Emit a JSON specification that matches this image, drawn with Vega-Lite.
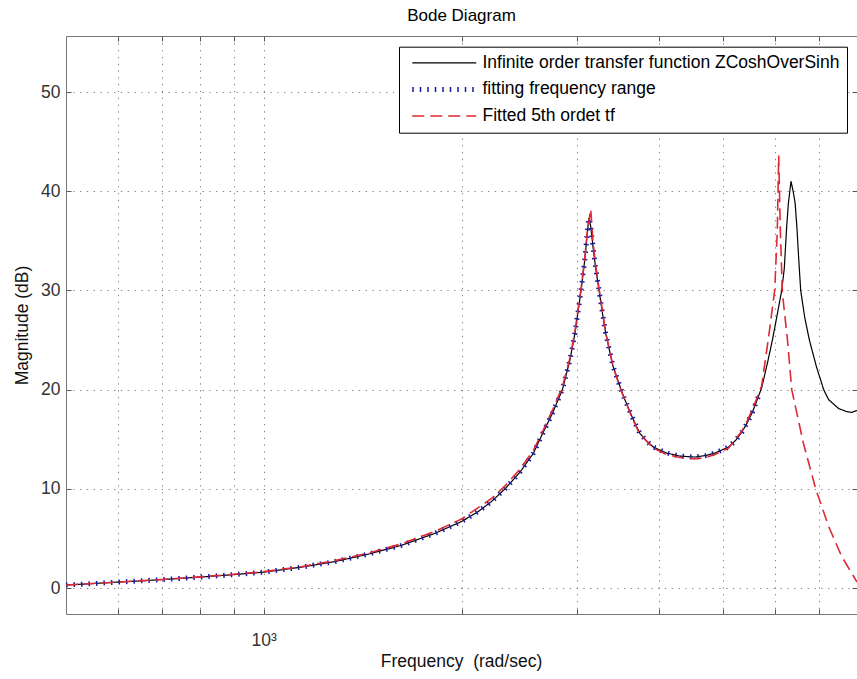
{
  "$schema": "https://vega.github.io/schema/vega-lite/v6.json",
  "width": 791,
  "height": 578,
  "autosize": {"type": "none"},
  "padding": {"left": 66, "top": 36, "right": 0, "bottom": 65},
  "background": "white",
  "title": {"text": "Bode Diagram", "fontSize": 17, "font": "Liberation Sans", "fontWeight": "normal", "color": "#000000", "baseline": "alphabetic", "offset": -2, "frame": "group", "anchor": "middle"},
  "config": {
    "view": {"stroke": null},
    "font": "Liberation Sans",
    "axis": {"domainColor": "#777777", "domainWidth": 1, "tickColor": "#555555", "tickWidth": 1, "labelFont": "Liberation Sans", "labelFontSize": 17.5, "labelColor": "#333333", "titleFont": "Liberation Sans", "titleFontSize": 17.5, "titleFontWeight": "normal", "titleColor": "#111111", "gridColor": "#808080", "gridDash": [1.3, 5.5], "gridOpacity": 1, "gridWidth": 1}
  },
  "datasets": {
    "black": [
      {"f": 500, "db": 0.3}, {"f": 550, "db": 0.45}, {"f": 600, "db": 0.6}, {"f": 650, "db": 0.72}, {"f": 700, "db": 0.85},
      {"f": 800, "db": 1.1}, {"f": 900, "db": 1.35}, {"f": 1000, "db": 1.6}, {"f": 1140, "db": 2.1}, {"f": 1280, "db": 2.65},
      {"f": 1440, "db": 3.4}, {"f": 1620, "db": 4.3}, {"f": 1820, "db": 5.5}, {"f": 2000, "db": 6.7}, {"f": 2120, "db": 7.7},
      {"f": 2220, "db": 8.7}, {"f": 2330, "db": 10.0}, {"f": 2450, "db": 11.6}, {"f": 2574, "db": 13.6}, {"f": 2650, "db": 15.4},
      {"f": 2750, "db": 17.6}, {"f": 2849, "db": 20.0}, {"f": 2925, "db": 23.0}, {"f": 2977, "db": 25.7}, {"f": 3041, "db": 30.0},
      {"f": 3080, "db": 33.0}, {"f": 3105, "db": 35.5}, {"f": 3125, "db": 37.3}, {"f": 3145, "db": 36.5}, {"f": 3170, "db": 34.5},
      {"f": 3200, "db": 32.3}, {"f": 3239, "db": 30.0}, {"f": 3280, "db": 27.6}, {"f": 3315, "db": 25.7}, {"f": 3400, "db": 22.4},
      {"f": 3499, "db": 20.0}, {"f": 3545, "db": 19.0}, {"f": 3640, "db": 17.2}, {"f": 3736, "db": 15.6}, {"f": 3830, "db": 14.8},
      {"f": 3920, "db": 14.2}, {"f": 4107, "db": 13.6}, {"f": 4300, "db": 13.3}, {"f": 4529, "db": 13.2}, {"f": 4700, "db": 13.35},
      {"f": 4859, "db": 13.6}, {"f": 5098, "db": 14.2}, {"f": 5230, "db": 14.9}, {"f": 5341, "db": 15.7}, {"f": 5450, "db": 16.7},
      {"f": 5550, "db": 17.8}, {"f": 5662, "db": 19.3}, {"f": 5728, "db": 20.2}, {"f": 5850, "db": 22.8}, {"f": 5947, "db": 25.0},
      {"f": 6050, "db": 27.6}, {"f": 6144, "db": 30.0}, {"f": 6200, "db": 32.2}, {"f": 6252, "db": 36.4}, {"f": 6290, "db": 38.8},
      {"f": 6348, "db": 41.0}, {"f": 6400, "db": 39.9}, {"f": 6440, "db": 38.8}, {"f": 6480, "db": 36.4}, {"f": 6520, "db": 33.3},
      {"f": 6567, "db": 30.0}, {"f": 6660, "db": 27.3}, {"f": 6770, "db": 25.0}, {"f": 6940, "db": 22.3}, {"f": 7118, "db": 20.0},
      {"f": 7240, "db": 19.0}, {"f": 7500, "db": 18.1}, {"f": 7700, "db": 17.8}, {"f": 7850, "db": 17.7}, {"f": 8000, "db": 17.9}
    ],
    "blue": [
      {"f": 500, "db": 0.3}, {"f": 550, "db": 0.45}, {"f": 600, "db": 0.6}, {"f": 650, "db": 0.72}, {"f": 700, "db": 0.85},
      {"f": 800, "db": 1.1}, {"f": 900, "db": 1.35}, {"f": 1000, "db": 1.6}, {"f": 1140, "db": 2.1}, {"f": 1280, "db": 2.65},
      {"f": 1440, "db": 3.4}, {"f": 1620, "db": 4.3}, {"f": 1820, "db": 5.5}, {"f": 2000, "db": 6.7}, {"f": 2120, "db": 7.7},
      {"f": 2220, "db": 8.7}, {"f": 2330, "db": 10.0}, {"f": 2450, "db": 11.6}, {"f": 2574, "db": 13.6}, {"f": 2650, "db": 15.4},
      {"f": 2750, "db": 17.6}, {"f": 2849, "db": 20.0}, {"f": 2925, "db": 23.0}, {"f": 2977, "db": 25.7}, {"f": 3041, "db": 30.0},
      {"f": 3080, "db": 33.0}, {"f": 3105, "db": 35.5}, {"f": 3125, "db": 37.3}, {"f": 3145, "db": 36.5}, {"f": 3170, "db": 34.5},
      {"f": 3200, "db": 32.3}, {"f": 3239, "db": 30.0}, {"f": 3280, "db": 27.6}, {"f": 3315, "db": 25.7}, {"f": 3400, "db": 22.4},
      {"f": 3499, "db": 20.0}, {"f": 3545, "db": 19.0}, {"f": 3640, "db": 17.2}, {"f": 3736, "db": 15.6}, {"f": 3830, "db": 14.8},
      {"f": 3920, "db": 14.2}, {"f": 4107, "db": 13.6}, {"f": 4300, "db": 13.3}, {"f": 4529, "db": 13.2}, {"f": 4700, "db": 13.35},
      {"f": 4859, "db": 13.6}, {"f": 5098, "db": 14.2}, {"f": 5230, "db": 14.9}, {"f": 5341, "db": 15.7}, {"f": 5450, "db": 16.7},
      {"f": 5550, "db": 17.8}, {"f": 5662, "db": 19.3}
    ],
    "red": [
      {"f": 500, "db": 0.3}, {"f": 600, "db": 0.6}, {"f": 700, "db": 0.86}, {"f": 800, "db": 1.12}, {"f": 900, "db": 1.38},
      {"f": 1000, "db": 1.65}, {"f": 1140, "db": 2.15}, {"f": 1280, "db": 2.75}, {"f": 1440, "db": 3.5}, {"f": 1620, "db": 4.45},
      {"f": 1820, "db": 5.7}, {"f": 2000, "db": 6.95}, {"f": 2220, "db": 9.0}, {"f": 2330, "db": 10.3}, {"f": 2450, "db": 11.9},
      {"f": 2574, "db": 13.9}, {"f": 2650, "db": 15.6}, {"f": 2750, "db": 17.9}, {"f": 2849, "db": 20.3}, {"f": 2925, "db": 23.2},
      {"f": 2977, "db": 25.9}, {"f": 3041, "db": 30.2}, {"f": 3080, "db": 33.2}, {"f": 3110, "db": 36.0}, {"f": 3146, "db": 38.2},
      {"f": 3170, "db": 35.0}, {"f": 3200, "db": 32.6}, {"f": 3239, "db": 30.2}, {"f": 3315, "db": 25.8}, {"f": 3400, "db": 22.4},
      {"f": 3499, "db": 19.9}, {"f": 3640, "db": 17.1}, {"f": 3736, "db": 15.5}, {"f": 3920, "db": 14.1}, {"f": 4107, "db": 13.45},
      {"f": 4300, "db": 13.15}, {"f": 4529, "db": 13.0}, {"f": 4700, "db": 13.15}, {"f": 4859, "db": 13.45}, {"f": 5098, "db": 14.1},
      {"f": 5341, "db": 15.8}, {"f": 5450, "db": 16.9}, {"f": 5550, "db": 18.1}, {"f": 5662, "db": 19.5}, {"f": 5728, "db": 20.4},
      {"f": 5860, "db": 25.0}, {"f": 5995, "db": 30.0}, {"f": 6050, "db": 36.0}, {"f": 6080, "db": 43.6}, {"f": 6115, "db": 36.0},
      {"f": 6160, "db": 29.7}, {"f": 6270, "db": 25.0}, {"f": 6364, "db": 20.0}, {"f": 6630, "db": 14.6}, {"f": 6921, "db": 10.0},
      {"f": 7244, "db": 6.2}, {"f": 7580, "db": 3.2}, {"f": 8000, "db": 0.6}
    ]
  },
  "layer": [
    {
      "data": {"name": "black"},
      "mark": {"type": "line", "strokeWidth": 1.2, "interpolate": "linear"},
      "encoding": {
        "x": {"field": "f", "type": "quantitative", "scale": {"type": "log", "domain": [500, 8000], "nice": false, "zero": false},
          "axis": {"orient": "bottom", "values": [600, 700, 800, 900, 1000, 2000, 3000, 4000, 5000, 6000, 7000], "labelExpr": "datum.value === 1000 ? '10³' : ''", "labelOverlap": false, "labelFlush": false, "grid": true, "tickSize": -5, "labelPadding": 36, "labelBaseline": "alphabetic", "title": "Frequency\u00a0 (rad/sec)", "titleX": 395, "titleY": 52, "titleBaseline": "alphabetic", "titleAlign": "center"}},
        "y": {"field": "db", "type": "quantitative", "scale": {"domain": [-2.62, 55.65], "nice": false, "zero": false},
          "axis": {"orient": "left", "values": [0, 10, 20, 30, 40, 50], "grid": true, "tickSize": -5, "labelPadding": 11, "title": "Magnitude (dB)", "titleX": -39, "titleY": 289, "titleBaseline": "alphabetic", "titleAlign": "center"}},
        "color": {"datum": "Infinite order transfer function ZCoshOverSinh", "type": "nominal",
          "scale": {"domain": ["Infinite order transfer function ZCoshOverSinh", "fitting frequency range", "Fitted 5th ordet tf"], "range": ["#000000", "#1a1aa8", "#dd2a35"]},
          "legend": {"title": null, "orient": "none", "legendX": 333, "legendY": 10.7, "strokeColor": "#000000", "fillColor": "#ffffff", "padding": 7.5, "rowPadding": 6.5, "labelFont": "Liberation Sans", "labelFontSize": 17.5, "labelColor": "#000000", "labelLimit": 1000, "symbolType": "M-8,0H8", "symbolSize": 64, "symbolOffset": 29, "labelOffset": 29.5,
            "encode": {"symbols": {"update": {"strokeWidth": {"signal": "datum.value === 'fitting frequency range' ? 5 : (datum.value === 'Fitted 5th ordet tf' ? 1.6 : 1.2)"}}}}}},
        "strokeDash": {"datum": "Infinite order transfer function ZCoshOverSinh", "type": "nominal",
          "scale": {"domain": ["Infinite order transfer function ZCoshOverSinh", "fitting frequency range", "Fitted 5th ordet tf"], "range": [[1, 0], [1.5, 6], [12, 6]]},
          "legend": {"title": null, "orient": "none", "legendX": 333, "legendY": 10.7, "strokeColor": "#000000", "fillColor": "#ffffff", "padding": 7.5, "rowPadding": 6.5, "labelFont": "Liberation Sans", "labelFontSize": 17.5, "labelColor": "#000000", "labelLimit": 1000, "symbolType": "M-8,0H8", "symbolSize": 64, "symbolOffset": 29, "labelOffset": 29.5,
            "encode": {"symbols": {"update": {"strokeWidth": {"signal": "datum.value === 'fitting frequency range' ? 5 : (datum.value === 'Fitted 5th ordet tf' ? 1.6 : 1.2)"}}}}}}
      }
    },
    {
      "data": {"name": "blue"},
      "mark": {"type": "line", "strokeWidth": 5, "interpolate": "linear"},
      "encoding": {
        "x": {"field": "f", "type": "quantitative", "scale": {"type": "log", "domain": [500, 8000], "nice": false, "zero": false},
          "axis": {"orient": "top", "values": [600, 700, 800, 900, 1000, 2000, 3000, 4000, 5000, 6000, 7000], "labels": false, "grid": false, "tickSize": -5, "title": null}},
        "y": {"field": "db", "type": "quantitative", "scale": {"domain": [-2.62, 55.65], "nice": false, "zero": false},
          "axis": {"orient": "right", "values": [0, 10, 20, 30, 40, 50], "labels": false, "grid": false, "tickSize": -5, "title": null}},
        "color": {"datum": "fitting frequency range", "type": "nominal"},
        "strokeDash": {"datum": "fitting frequency range", "type": "nominal"}
      }
    },
    {
      "data": {"name": "red"},
      "mark": {"type": "line", "strokeWidth": 1.6, "interpolate": "linear"},
      "encoding": {
        "x": {"field": "f", "type": "quantitative", "scale": {"type": "log", "domain": [500, 8000], "nice": false, "zero": false}, "axis": null},
        "y": {"field": "db", "type": "quantitative", "scale": {"domain": [-2.62, 55.65], "nice": false, "zero": false}, "axis": null},
        "color": {"datum": "Fitted 5th ordet tf", "type": "nominal"},
        "strokeDash": {"datum": "Fitted 5th ordet tf", "type": "nominal"}
      }
    }
  ],
  "resolve": {"axis": {"x": "independent", "y": "independent"}}
}
